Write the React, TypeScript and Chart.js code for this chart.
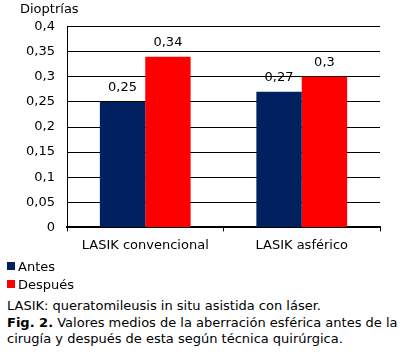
import React, { useEffect, useRef } from "react";
import { Chart, registerables } from "chart.js";

Chart.register(...registerables);

const categories = ["LASIK convencional", "LASIK asférico"];
const antes = [0.25, 0.27];
const despues = [0.34, 0.3];
const seriesNames = ["Antes", "Después"];
const seriesColors = ["#002060", "#FF0000"];
const yTicks = [0, 0.05, 0.1, 0.15, 0.2, 0.25, 0.3, 0.35, 0.4];
const yTitle = "Dioptrías";
const note = "LASIK: queratomileusis in situ asistida con láser.";
const figLabel = "Fig. 2.";
const captionLines = [
  " Valores medios de la aberración esférica antes de la",
  "cirugía y después de esta según técnica quirúrgica.",
];

const FONT = "'DejaVu Sans', Verdana, sans-serif";
const FS = 13;

const fmt = (v: number) => {
  const s = String(Math.round(v * 100) / 100);
  return s.replace(".", ",");
};

const labelPlugin = {
  id: "barLabels",
  afterDatasetsDraw(chart: any) {
    const ctx = chart.ctx;
    ctx.save();
    ctx.font = `${FS}px ${FONT}`;
    ctx.fillStyle = "#000";
    ctx.textAlign = "center";
    ctx.textBaseline = "middle";
    chart.data.datasets.forEach((ds: any, i: number) => {
      const meta = chart.getDatasetMeta(i);
      meta.data.forEach((bar: any, j: number) => {
        ctx.fillText(fmt(ds.data[j]), bar.x, bar.y - 14);
      });
    });
    ctx.restore();
  },
};

export default function App() {
  const ref = useRef<HTMLCanvasElement | null>(null);
  useEffect(() => {
    if (!ref.current) return;
    const chart = new Chart(ref.current, {
      type: "bar",
      data: {
        labels: categories,
        datasets: [
          { label: seriesNames[0], data: antes, backgroundColor: seriesColors[0], borderWidth: 0 },
          { label: seriesNames[1], data: despues, backgroundColor: seriesColors[1], borderWidth: 0 },
        ],
      },
      options: {
        animation: false,
        responsive: false,
        maintainAspectRatio: false,
        layout: { padding: { left: 20, right: 40, top: 2, bottom: 4 } },
        datasets: { bar: { categoryPercentage: 0.58, barPercentage: 1 } },
        plugins: {
          legend: { display: false },
          tooltip: { enabled: false },
          title: {
            display: true,
            text: yTitle,
            align: "start",
            color: "#000",
            font: { family: FONT, size: FS, weight: "normal" },
            padding: { top: 0, bottom: 9 },
          },
        },
        scales: {
          x: {
            grid: { display: true, drawOnChartArea: false, drawTicks: true, tickLength: 4, color: "#000", offset: true },
            border: { color: "#000", width: 2 },
            ticks: { color: "#000", font: { family: FONT, size: FS }, padding: 6 },
          },
          y: {
            min: 0,
            max: 0.4,
            afterBuildTicks: (scale: any) => {
              scale.ticks = yTicks.map((v) => ({ value: v }));
            },
            afterFit: (scale: any) => {
              scale.width = 47;
            },
            grid: { color: "#000", lineWidth: 1, drawTicks: false },
            border: { color: "#000", width: 1 },
            ticks: {
              color: "#000",
              font: { family: FONT, size: FS },
              padding: 12,
              callback: (v: any) => fmt(Number(v)),
            },
          },
        },
      },
      plugins: [labelPlugin],
    });
    return () => chart.destroy();
  }, []);

  const textStyle: React.CSSProperties = {
    fontFamily: FONT,
    fontSize: FS,
    color: "#000",
  };

  return (
    <div style={{ position: "absolute", left: 0, top: 0, width: 420, height: 355, background: "#fff" }}>
      <canvas ref={ref} width={420} height={263} style={{ display: "block", width: 420, height: 263 }} />
      <div style={{ position: "absolute", left: 7, top: 257, ...textStyle }}>
        {seriesNames.map((n, i) => (
          <div key={n} style={{ display: "flex", alignItems: "center", height: 18 }}>
            <span style={{ display: "inline-block", width: 8, height: 8, background: seriesColors[i], marginRight: 3 }} />
            <span>{n}</span>
          </div>
        ))}
      </div>
      <div style={{ position: "absolute", left: 7, top: 298, width: 413, lineHeight: "16.5px", whiteSpace: "nowrap", ...textStyle }}>
        <div>{note}</div>
        <div>
          <b>{figLabel}</b>
          {captionLines[0]}
        </div>
        <div>{captionLines[1]}</div>
      </div>
    </div>
  );
}
